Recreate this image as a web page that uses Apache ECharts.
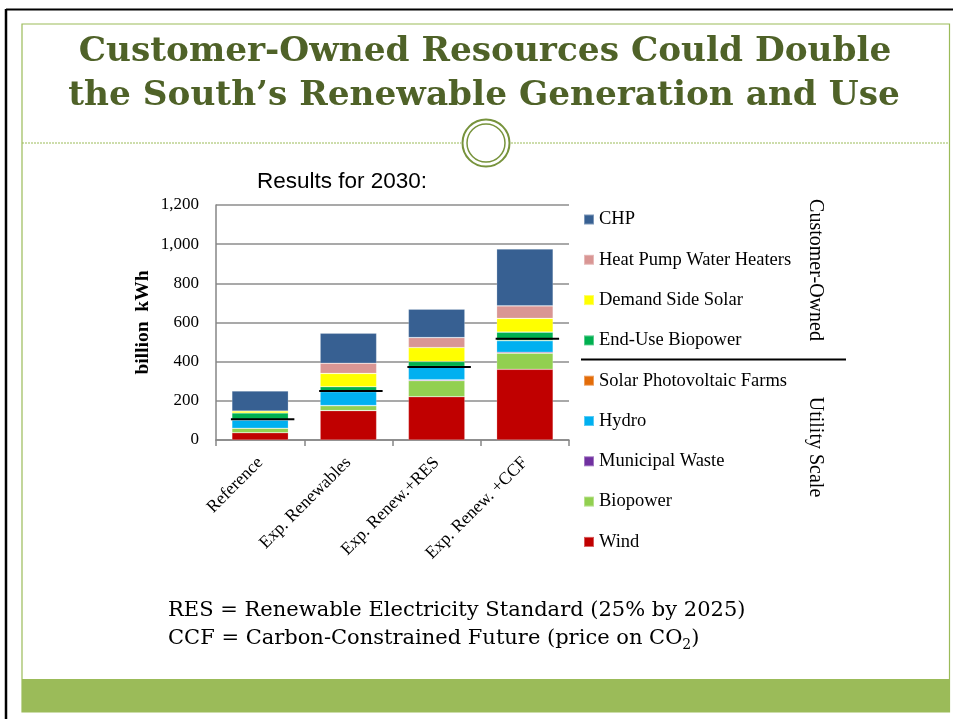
<!DOCTYPE html>
<html>
<head>
<meta charset="utf-8">
<script src="https://cdn.jsdelivr.net/npm/echarts@6/dist/echarts.min.js"></script>
<style>
html,body{margin:0;padding:0;background:#fff;}
#chart{width:953px;height:719px;}
</style>
</head>
<body>
<div id="chart"></div>
<script>
// ---- data ----
const categories = ['Reference', 'Exp. Renewables', 'Exp. Renew.+RES', 'Exp. Renew. +CCF'];
const wind            = [37, 150, 221, 361];
const biopower        = [23, 25, 82, 82];
const municipalWaste  = [0, 1, 5, 5];
const hydro           = [42, 71, 66, 59];
const solarPVFarms    = [0, 0, 1, 1];
const endUseBiopower  = [36, 25, 26, 43];
const demandSideSolar = [10, 68, 71, 70];
const heatPumpWH      = [0, 52, 51, 64];
const chp             = [102, 153, 145, 290];
const utilityTotal    = [106, 250, 373, 517];
const yTicks = [0, 200, 400, 600, 800, 1000, 1200];

const seriesDefs = [
  {name: 'Wind', data: wind, color: '#C00000'},
  {name: 'Biopower', data: biopower, color: '#92D050'},
  {name: 'Municipal Waste', data: municipalWaste, color: '#7030A0'},
  {name: 'Hydro', data: hydro, color: '#00B0F0'},
  {name: 'Solar Photovoltaic Farms', data: solarPVFarms, color: '#E36C09'},
  {name: 'End-Use Biopower', data: endUseBiopower, color: '#00B050'},
  {name: 'Demand Side Solar', data: demandSideSolar, color: '#FFFF00'},
  {name: 'Heat Pump Water Heaters', data: heatPumpWH, color: '#D99694'},
  {name: 'CHP', data: chp, color: '#376092'}
];

const serif = '"Liberation Serif", "DejaVu Serif", serif';
const titleFont = '"DejaVu Serif", "Liberation Serif", serif';
const chart = echarts.init(document.getElementById('chart'), null, {renderer: 'canvas'});

const series = seriesDefs.map(d => ({
  name: d.name, type: 'bar', stack: 'total', barWidth: '64%',
  data: d.data,
  itemStyle: {color: d.color, borderColor: 'rgba(255,255,255,0.35)', borderWidth: 0.6},
  emphasis: {disabled: true}
}));
series.push({
  name: 'Utility total', type: 'custom', z: 10,
  data: utilityTotal.map((v, i) => [i, v]),
  encode: {x: 0, y: 1},
  renderItem: function (params, api) {
    const c = api.coord([api.value(0), api.value(1)]);
    const w = api.size([1, 0])[0] * 0.64;
    return {type: 'line', shape: {x1: c[0] - w / 2 - 1, y1: c[1], x2: c[0] + w / 2 + 6, y2: c[1]},
      style: {stroke: '#000', lineWidth: 2}};
  }
});

const green = '#9BBB59';
const option = {
  animation: false,
  backgroundColor: '#fff',
  grid: {left: 216, top: 205, right: 384, bottom: 279, containLabel: false},
  legend: {
    data: seriesDefs.map(d => d.name).reverse(),
    orient: 'vertical', left: 583, top: 210, padding: 0,
    itemWidth: 10, itemHeight: 10, itemGap: 21.3,
    icon: 'rect',
    textStyle: {fontFamily: serif, fontSize: 18.5, lineHeight: 18.3, color: '#000'},
    selectedMode: false
  },
  xAxis: {
    type: 'category', data: categories,
    axisLine: {lineStyle: {color: '#868686', width: 1.5}},
    axisTick: {show: true, length: 6, lineStyle: {color: '#868686', width: 1.5}},
    axisLabel: {rotate: 45, fontFamily: serif, fontSize: 17.5, color: '#000', margin: 20, interval: 0}
  },
  yAxis: {
    type: 'value', min: yTicks[0], max: yTicks[yTicks.length - 1], interval: 200,
    name: 'billion  kWh', nameLocation: 'middle', nameGap: 63, nameRotate: 90,
    nameTextStyle: {fontFamily: serif, fontSize: 19.5, fontWeight: 'bold', color: '#000'},
    axisLine: {show: true, lineStyle: {color: '#868686', width: 1.5}},
    axisTick: {show: false},
    axisLabel: {fontFamily: serif, fontSize: 17, color: '#000', margin: 17,
      formatter: v => v.toLocaleString('en-US')},
    splitLine: {lineStyle: {color: '#8C8C8C', width: 1.5}}
  },
  series: series,
  graphic: [
    // slide frame
    {type: 'line', shape: {x1: 6, y1: 9.5, x2: 953, y2: 9.5}, style: {stroke: '#000', lineWidth: 2}, silent: true},
    {type: 'line', shape: {x1: 6, y1: 9, x2: 6, y2: 719}, style: {stroke: '#000', lineWidth: 2.5}, silent: true},
    {type: 'rect', shape: {x: 22, y: 24, width: 927.5, height: 688}, style: {fill: 'none', stroke: green, lineWidth: 1.2}, silent: true},
    {type: 'rect', shape: {x: 22, y: 679, width: 927.5, height: 33}, style: {fill: green}, silent: true},
    {type: 'line', shape: {x1: 22, y1: 143, x2: 461, y2: 143}, style: {stroke: green, lineWidth: 1, lineDash: [2, 1]}, silent: true},
    {type: 'line', shape: {x1: 511, y1: 143, x2: 949, y2: 143}, style: {stroke: green, lineWidth: 1, lineDash: [2, 1]}, silent: true},
    {type: 'circle', shape: {cx: 486, cy: 143, r: 23.5}, style: {fill: '#fff', stroke: '#77933C', lineWidth: 2}, silent: true},
    {type: 'circle', shape: {cx: 486, cy: 143, r: 19}, style: {fill: '#fff', stroke: '#77933C', lineWidth: 1.5}, silent: true},
    // title
    {type: 'text', x: 485, y: 52, silent: true,
      style: {text: 'Customer-Owned Resources Could Double', font: 'bold 34.3px ' + titleFont, fill: '#4F6228',
        textAlign: 'center', textVerticalAlign: 'middle'}},
    {type: 'text', x: 484, y: 96, silent: true,
      style: {text: 'the South\u2019s Renewable Generation and Use', font: 'bold 34.3px ' + titleFont, fill: '#4F6228',
        textAlign: 'center', textVerticalAlign: 'middle'}},
    {type: 'text', left: 257, top: 170, silent: true,
      style: {text: 'Results for 2030:', font: '22.5px "Liberation Sans", Arial, sans-serif', fill: '#000'}},
    // group labels
    {type: 'text', x: 815, y: 270, rotation: -Math.PI / 2, silent: true,
      style: {text: 'Customer-Owned', font: '20px ' + serif, fill: '#000', textAlign: 'center', textVerticalAlign: 'middle'}},
    {type: 'text', x: 815, y: 447, rotation: -Math.PI / 2, silent: true,
      style: {text: 'Utility Scale', font: '20px ' + serif, fill: '#000', textAlign: 'center', textVerticalAlign: 'middle'}},
    {type: 'line', shape: {x1: 581, y1: 359.5, x2: 846, y2: 359.5}, style: {stroke: '#000', lineWidth: 2}, silent: true},
    // footnotes
    {type: 'text', left: 168, top: 600, silent: true,
      style: {text: 'RES = Renewable Electricity Standard (25% by 2025)', font: '21px ' + titleFont, fill: '#000'}},
    {type: 'text', left: 168, top: 628, silent: true,
      style: {text: '{n|CCF = Carbon-Constrained Future (price on CO}{s|2}{n|)}',
        rich: {n: {fontFamily: titleFont, fontSize: 21, lineHeight: 27, fill: '#000'},
               s: {fontFamily: titleFont, fontSize: 14, lineHeight: 14, verticalAlign: 'bottom', fill: '#000'}}}}
  ]
};
chart.setOption(option);
</script>
</body>
</html>
